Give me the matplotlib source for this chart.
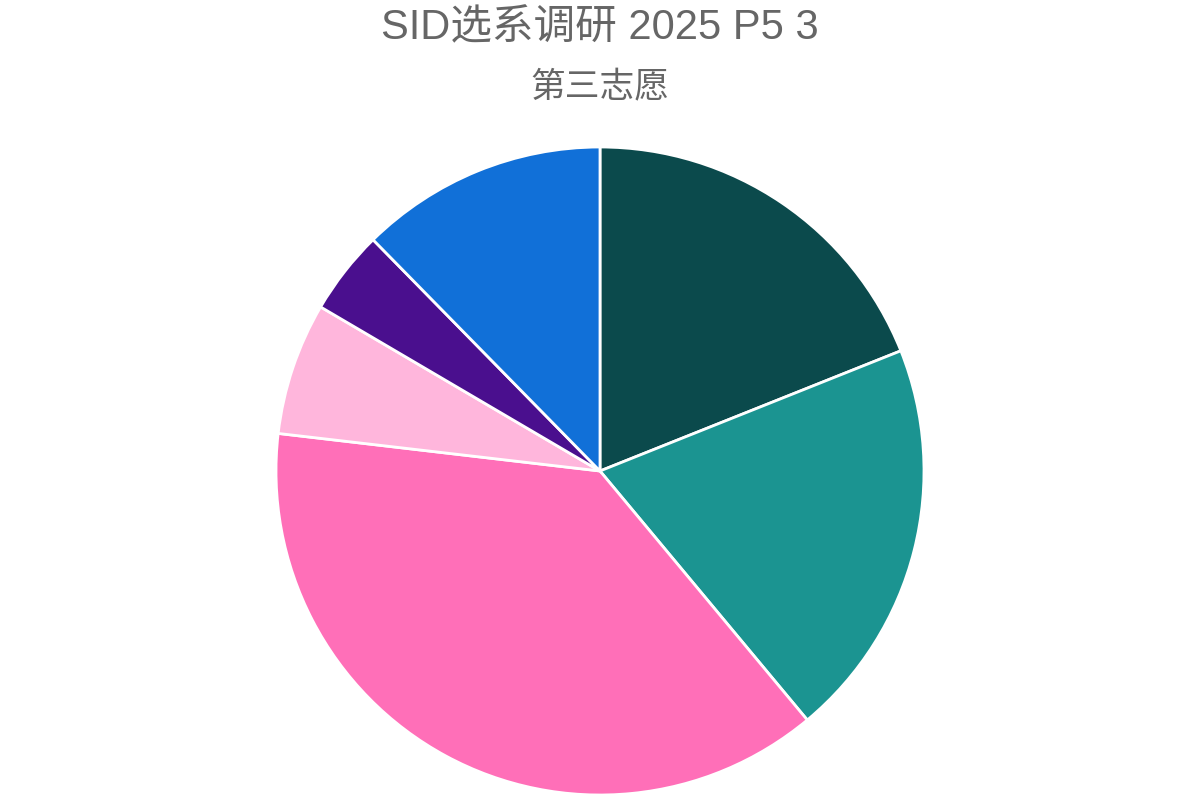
import matplotlib
matplotlib.use("Agg")
import matplotlib.pyplot as plt

categories = ["A", "B", "C", "D", "E", "F"]
values = [18.95, 20.0, 37.9, 6.6, 4.2, 12.35]
colors = ["#0b4a4c", "#1b9491", "#ff6fb8", "#ffb6dc", "#4a0f8e", "#1170d8"]
title = "SID选系调研 2025 P5 3"
subtitle = "第三志愿"

fam = ["Liberation Sans", "Noto Sans CJK SC", "DejaVu Sans"]

fig = plt.figure(figsize=(12, 8), dpi=100)
ax = fig.add_axes([0.23, 0.00625, 0.54, 0.81])
ax.pie(values, colors=colors, startangle=90, counterclock=False,
       wedgeprops=dict(edgecolor="white", linewidth=2.0))
ax.set_xlim(-1, 1)
ax.set_ylim(-1, 1)
ax.set_aspect("equal")
ax.axis("off")

fig.text(0.5, 1 - 28 / 800, title, ha="center", va="center", fontsize=30,
         color="#666666", family=fam)
fig.text(0.5, 1 - 88 / 800, subtitle, ha="center", va="center", fontsize=25,
         color="#666666", family=fam)

fig.savefig("out.png", dpi=100)
